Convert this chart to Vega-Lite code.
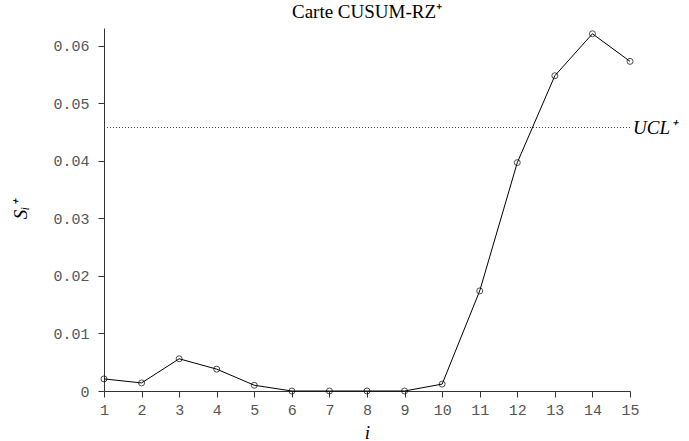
{
  "$schema": "https://vega.github.io/schema/vega-lite/v6.json",
  "width": 526,
  "height": 363,
  "autosize": {"type": "none"},
  "padding": {"left": 104, "top": 28, "right": 59, "bottom": 50},
  "background": "white",
  "title": {
    "text": "Carte CUSUM-RZ⁺",
    "font": "Liberation Serif",
    "fontSize": 19,
    "fontWeight": "normal",
    "color": "black",
    "offset": 6
  },
  "config": {
    "view": {"stroke": null},
    "axis": {
      "grid": false,
      "domainColor": "#333",
      "tickColor": "#333",
      "tickSize": 6,
      "labelFont": "Liberation Mono",
      "labelFontSize": 15,
      "labelColor": "#555",
      "titleFont": "Liberation Serif",
      "titleFontStyle": "italic",
      "titleFontWeight": "normal",
      "titleFontSize": 19,
      "titleColor": "black"
    },
    "axisX": {"labelOverlap": false, "labelFlush": false, "labelPadding": 5, "titlePadding": 6},
    "axisY": {"labelOverlap": false, "labelPadding": 9, "titlePadding": 22}
  },
  "data": {"name": "cusum", "values": [
    {"i": 1, "s": 0.0021},
    {"i": 2, "s": 0.0014},
    {"i": 3, "s": 0.0056},
    {"i": 4, "s": 0.0038},
    {"i": 5, "s": 0.0010},
    {"i": 6, "s": 0.0},
    {"i": 7, "s": 0.0},
    {"i": 8, "s": 0.0},
    {"i": 9, "s": 0.0},
    {"i": 10, "s": 0.0012},
    {"i": 11, "s": 0.0174},
    {"i": 12, "s": 0.0397},
    {"i": 13, "s": 0.0548},
    {"i": 14, "s": 0.0621},
    {"i": 15, "s": 0.0573}
  ]},
  "layer": [
    {
      "mark": {"type": "line", "color": "black", "strokeWidth": 1},
      "encoding": {
        "x": {"field": "i", "type": "quantitative", "title": "i", "scale": {"domain": [1, 15], "nice": false, "zero": false}, "axis": {"values": [1,2,3,4,5,6,7,8,9,10,11,12,13,14,15], "tickCount": 15, "format": "d"}},
        "y": {"field": "s", "type": "quantitative", "title": "Sᵢ⁺", "scale": {"domain": [0, 0.0631], "nice": false}, "axis": {"values": [0, 0.01, 0.02, 0.03, 0.04, 0.05, 0.06], "labelExpr": "datum.value == 0 ? '0' : format(datum.value, '.2f')"}}
      }
    },
    {
      "mark": {"type": "point", "shape": "circle", "filled": false, "color": "black", "size": 36, "strokeWidth": 1},
      "encoding": {
        "x": {"field": "i", "type": "quantitative", "title": "i", "axis": {"values": [1,2,3,4,5,6,7,8,9,10,11,12,13,14,15], "tickCount": 15, "format": "d"}},
        "y": {"field": "s", "type": "quantitative", "title": "Sᵢ⁺", "axis": {"values": [0, 0.01, 0.02, 0.03, 0.04, 0.05, 0.06], "labelExpr": "datum.value == 0 ? '0' : format(datum.value, '.2f')"}}
      }
    },
    {
      "data": {"values": [{"ucl": 0.0458, "i": 15, "label": "UCL⁺"}]},
      "mark": {"type": "rule", "strokeDash": [1, 2], "color": "#444", "strokeWidth": 1},
      "encoding": {
        "y": {"field": "ucl", "type": "quantitative"}
      }
    },
    {
      "data": {"values": [{"ucl": 0.0458, "i": 15, "label": "UCL⁺"}]},
      "mark": {"type": "text", "align": "left", "baseline": "middle", "dx": 3, "font": "Liberation Serif", "fontStyle": "italic", "fontSize": 19, "color": "black"},
      "encoding": {
        "x": {"field": "i", "type": "quantitative"},
        "y": {"field": "ucl", "type": "quantitative"},
        "text": {"field": "label"}
      }
    }
  ]
}
